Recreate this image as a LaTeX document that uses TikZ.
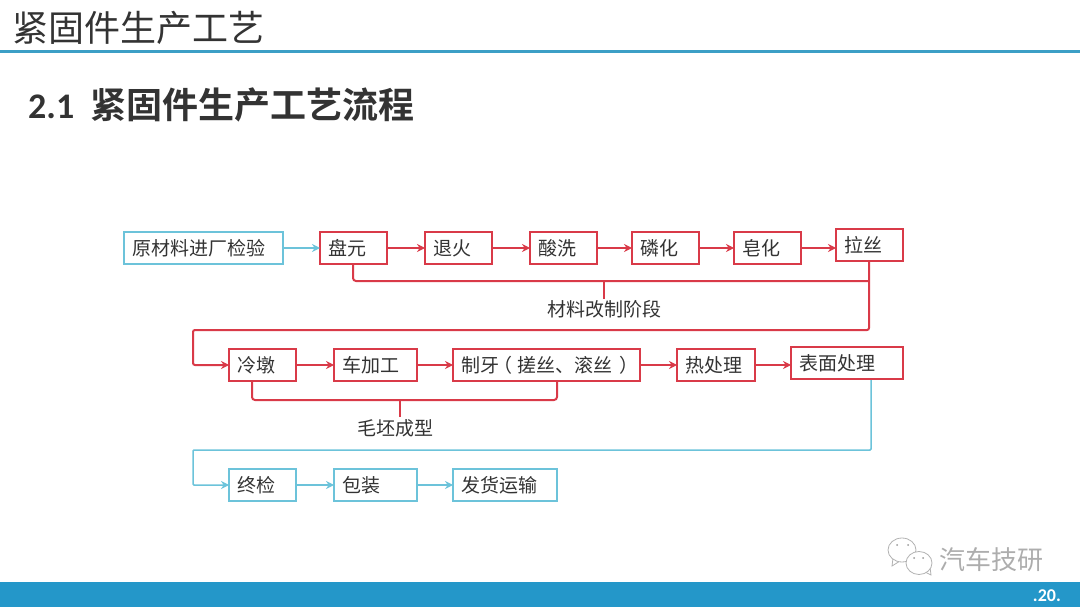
\documentclass[tikz,border=0pt]{standalone}
\usepackage{fontspec}
\setmainfont{Noto Sans CJK SC}[BoldFont={Noto Sans CJK SC Bold}]
\newfontfamily\latinf{Carlito}
\usetikzlibrary{arrows.meta}
\definecolor{rd}{HTML}{D93A48}
\definecolor{cy}{HTML}{6CC3DA}
\definecolor{band}{HTML}{2497C9}
\definecolor{rule}{HTML}{3C9FC6}
\definecolor{ink}{HTML}{333333}
\tikzset{
  redbox/.style={draw=rd,line width=2.2pt,fill=white,anchor=north west,outer sep=0pt,inner xsep=8pt,inner ysep=0pt,minimum height=32pt,align=left,text=ink,font=\fontsize{19}{19}\selectfont},
  cybox/.style={redbox,draw=cy,line width=1.6pt},
  redline/.style={draw=rd,line width=2pt,rounded corners=3pt},
  redarrow/.style={redline,-{Stealth[length=8pt,width=8pt]}},
  cyline/.style={draw=cy,line width=1.5pt},
  cyarrow/.style={cyline,-{Stealth[length=8pt,width=8pt]}},
  lbl/.style={text=ink,font=\fontsize{19}{19}\selectfont,inner sep=0pt}
}
\begin{document}
\begin{tikzpicture}[x=1pt,y=-1pt]
\useasboundingbox (0,0) rectangle (1080,607);
% header and footer
\node[anchor=west,inner sep=0pt,text=ink,font=\fontsize{36}{36}\selectfont] (title) at (12,28) {紧固件生产工艺};
\fill[rule] (0,50) rectangle (1080,53);
\node[anchor=west,inner sep=0pt,text=ink,font=\fontsize{36}{36}\selectfont\latinf\bfseries] (num) at (28,107) {2.1};
\node[anchor=west,inner sep=0pt,text=ink,font=\fontsize{36}{36}\selectfont\bfseries] (sub) at (90,105) {紧固件生产工艺流程};
\fill[band] (0,582) rectangle (1080,607);
\node[anchor=east,inner sep=0pt,text=white,font=\fontsize{18}{18}\selectfont\latinf\bfseries] (pg) at (1061,596) {.20.};
% first row
\node[cybox,minimum width=159pt,text width=143pt] (a0) at (124,232) {\mbox{原材料进厂检验}};
\node[redbox,minimum width=67pt,text width=51pt] (a1) at (320,232) {盘元};
\node[redbox,minimum width=67pt,text width=51pt] (a2) at (425,232) {退火};
\node[redbox,minimum width=67pt,text width=51pt] (a3) at (530,232) {酸洗};
\node[redbox,minimum width=67pt,text width=51pt] (a4) at (632,232) {磷化};
\node[redbox,minimum width=67pt,text width=51pt] (a5) at (734,232) {皂化};
\node[redbox,minimum width=67pt,text width=51pt] (a6) at (836,229) {拉丝};
% second row
\node[redbox,minimum width=67pt,text width=51pt] (b1) at (229,349) {冷墩};
\node[redbox,minimum width=83pt,text width=67pt] (b2) at (334,349) {车加工};
\node[redbox,minimum width=187pt,text width=171pt] (b3) at (453,349) {\mbox{制牙\hspace{-6pt}（\hspace{6pt}搓丝、滚丝\hspace{7pt}）}};
\node[redbox,minimum width=78pt,text width=62pt] (b4) at (677,349) {热处理};
\node[redbox,minimum width=112pt,text width=96pt] (b5) at (791,347) {表面处理};
% third row
\node[cybox,minimum width=67pt,text width=51pt] (c1) at (229,469) {终检};
\node[cybox,minimum width=83pt,text width=67pt] (c2) at (334,469) {包装};
\node[cybox,minimum width=104pt,text width=88pt] (c3) at (453,469) {发货运输};
% labels
\node[lbl] (l1) at (604,309) {材料改制阶段};
\node[lbl] (l2) at (395,428) {毛坯成型};
% arrows in rows
\draw[cyarrow] (a0) -- (a1);
\draw[redarrow] (a1) -- (a2);
\draw[redarrow] (a2) -- (a3);
\draw[redarrow] (a3) -- (a4);
\draw[redarrow] (a4) -- (a5);
\draw[redarrow] (a5.east) -- (a6.west |- a5.east);
\draw[redarrow] (b1) -- (b2);
\draw[redarrow] (b2) -- (b3);
\draw[redarrow] (b3) -- (b4);
\draw[redarrow] (b4.east) -- (b5.west |- b4.east);
\draw[cyarrow] (c1) -- (c2);
\draw[cyarrow] (c2) -- (c3);
% brackets
\coordinate (p1) at (353,264);
\coordinate (p2) at (869,281);
\coordinate (p3) at (869,261);
\draw[redline] (p1) -- (353,281) -- (p2);
\draw[redline,sharp corners] (604,281) -- (604,299);
\coordinate (q1) at (252,381);
\coordinate (q2) at (557,381);
\draw[redline] (q1) -- (252,400) -- (557,400) -- (q2);
\draw[redline,sharp corners] (400,400) -- (400,417);
% row links
\coordinate (r1) at (193,330);
\coordinate (r2) at (193,450);
\draw[redline,rounded corners=2pt,-{Stealth[length=8pt,width=8pt]}] (p3) -- (p3 |- r1) -- (r1) -- (r1 |- b1.west) -- (b1.west);
\coordinate (p4) at (871,380);
\draw[cyline,rounded corners=1pt,-{Stealth[length=8pt,width=8pt]}] (p4) -- (p4 |- r2) -- (r2) -- (r2 |- c1.west) -- (c1.west);
% watermark
\begin{scope}[draw=black!30,line width=0.8pt,fill=white]
\draw[fill=white] (893,558) -- (892,566) -- (900,561);
\draw[fill=white] (902,550) ellipse (14pt and 12pt);
\draw[fill=white] (925,572) -- (931,575) -- (930,567);
\draw[fill=white] (919,563) ellipse (13pt and 11.5pt);
\end{scope}
\fill[black!40] (897,545) circle (1pt) (908,545) circle (1pt) (914,558) circle (1pt) (923,558) circle (1pt);
\node[anchor=west,inner sep=0pt,text=black!32,font=\fontsize{26}{26}\selectfont] (wm) at (939,560) {汽车技研};
\end{tikzpicture}
\end{document}
